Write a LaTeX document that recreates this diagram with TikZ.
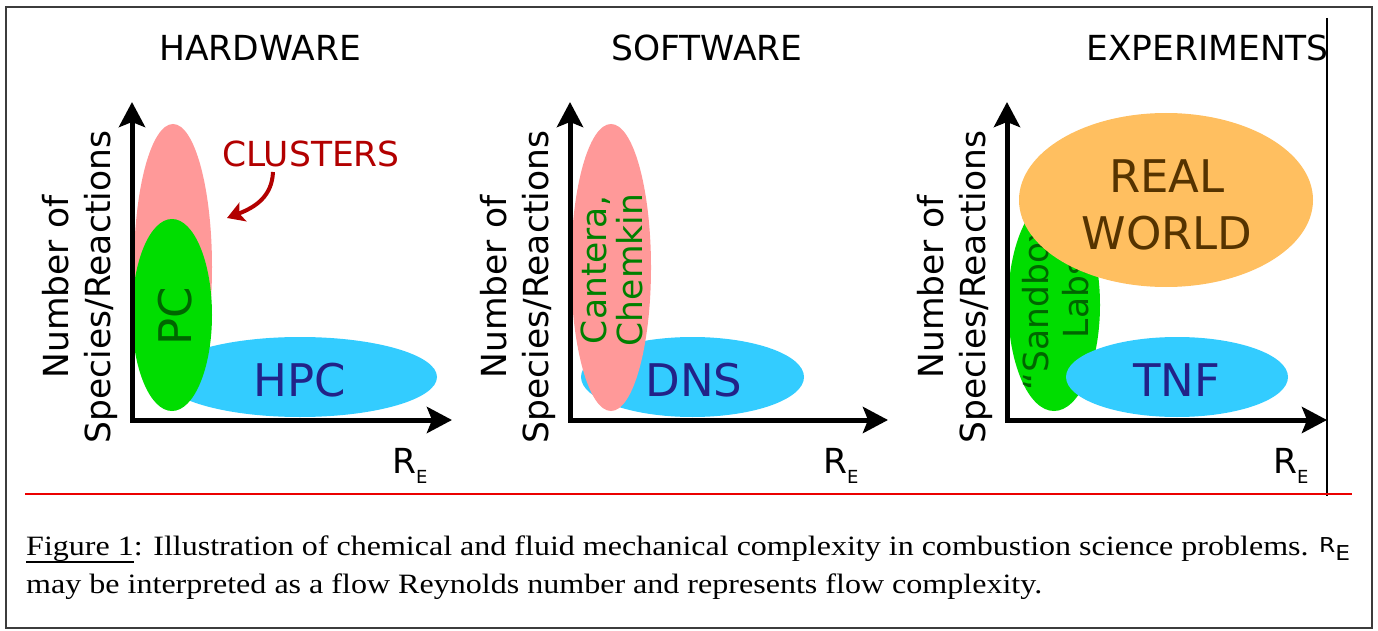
\documentclass[tikz,border=0pt]{standalone}
\usepackage{fontspec}
\setmainfont{Liberation Serif}
\newfontfamily\dvsans{DejaVu Sans}
\usetikzlibrary{shapes.geometric,arrows.meta,calc}

\newcommand\fsz[2]{\fontsize{#1}{#2}\selectfont}
% Reynolds-number label used under each x axis
\newcommand\reyn{R\raisebox{-10pt}{\fsz{18}{18}E}}
% underlined figure tag in the caption
\newsavebox\ulbox
\newcommand\figul[1]{\sbox\ulbox{#1}\rlap{\rule[-7.5pt]{\wd\ulbox}{1.8pt}}\usebox\ulbox}

\definecolor{pinkE}{RGB}{255,153,153}
\definecolor{greenE}{RGB}{0,221,0}
\definecolor{blueE}{RGB}{51,204,255}
\definecolor{orangeE}{RGB}{255,191,96}
\definecolor{navyT}{RGB}{34,34,136}
\definecolor{greenT}{RGB}{0,102,0}
\definecolor{greenTT}{RGB}{0,128,0}
\definecolor{brownT}{RGB}{85,51,0}
\definecolor{redT}{RGB}{178,0,0}
\definecolor{ruleRed}{RGB}{235,0,0}
\definecolor{frameC}{RGB}{60,60,60}

\begin{document}
\begin{tikzpicture}[x=1pt,y=-1pt,
  blob/.style={ellipse, inner sep=0pt, outer sep=0pt, draw=none},
  lbl/.style={font=\dvsans\fsz{34.5}{42}, inner sep=0pt},
  big/.style={font=\dvsans\fsz{45}{57}, inner sep=0pt},
  axis/.style={line width=5pt,
    {Stealth[length=25pt,width=26pt,inset=5pt]}-{Stealth[length=25pt,width=26pt,inset=5pt]}},
  ylab/.style={lbl, rotate=90, align=center},
]
\useasboundingbox (0,0) rectangle (1378,631);

% outer frame, right margin line and red separator
\draw[frameC, line width=2pt] (6,7) rectangle (1372,628);
\draw[black, line width=1.5pt] (1327,18) -- (1327,496);
\draw[ruleRed, line width=2pt] (25,494) -- (1352,494);

% ---------------- HARDWARE ----------------
\node[lbl, anchor=base] (hw-title) at (260,61) {HARDWARE};
\node[blob, fill=pinkE, minimum width=78pt, minimum height=286pt] (hw-cl) at (173,267) {};
\node[blob, fill=blueE, minimum width=274pt, minimum height=80pt] (hw-hpc) at (300,377) {};
\node[blob, fill=greenE, minimum width=80pt, minimum height=192pt] (hw-pc) at (172,315) {};
\node[big, text=greenT, rotate=90] (hw-pc-t) at (175,316) {PC};
\node[big, text=navyT, anchor=base] (hw-hpc-t) at (300,396) {HPC};
\node[lbl, text=redT, anchor=base] (hw-clusters) at (311,167) {CLUSTERS};
\coordinate (hw-cl-tip) at (227,218);
\draw[redT, line width=4pt, -{Stealth[length=17pt,width=20pt,inset=4pt]}]
  ($(hw-clusters.base)+(-38,5)$) .. controls (272,196) and (256,207) .. (hw-cl-tip);
\coordinate (hw-o) at (132,420);
\coordinate (hw-y) at (132,102);
\coordinate (hw-x) at (452,420);
\draw[axis] (hw-y) -- (hw-o) -- (hw-x);
\node[ylab] (hw-ylab) at (80,287) {Number of\\Species/Reactions};
\node[lbl, anchor=base west] (hw-re) at (392,473) {\reyn};

% ---------------- SOFTWARE ----------------
\node[lbl, anchor=base] (sw-title) at (707,61) {SOFTWARE};
\node[blob, fill=blueE, minimum width=223pt, minimum height=80pt] (sw-dns) at (692.5,377) {};
\node[blob, fill=pinkE, minimum width=80pt, minimum height=287pt] (sw-ct) at (611,267.5) {};
\node[big, text=navyT, anchor=base] (sw-dns-t) at (694,396) {DNS};
\node[ylab, text=greenTT, font=\dvsans\fsz{34.5}{36.5}] (sw-ct-t) at (612,270) {Cantera,\\Chemkin};
\coordinate (sw-o) at (570,420);
\coordinate (sw-y) at (570,102);
\coordinate (sw-x) at (888,420);
\draw[axis] (sw-y) -- (sw-o) -- (sw-x);
\node[ylab] (sw-ylab) at (518,287) {Number of\\Species/Reactions};
\node[lbl, anchor=base west] (sw-re) at (823,473) {\reyn};

% ---------------- EXPERIMENTS ----------------
\node[lbl, anchor=base] (ex-title) at (1207.5,61) {EXPERIMENTS};
\node[blob, fill=greenE, minimum width=92pt, minimum height=212pt] (ex-sb) at (1054,305) {};
\node[ylab, text=greenT, font=\dvsans\fsz{34.5}{40}] (ex-sb-t) at (1056,298) {“Sandbox”\\Labs};
\node[blob, fill=orangeE, minimum width=294pt, minimum height=174pt] (ex-rw) at (1166,200) {};
\node[big, text=brownT, align=center] (ex-rw-t) at (1167,204.5) {REAL\\WORLD};
\node[blob, fill=blueE, minimum width=222pt, minimum height=80pt] (ex-tnf) at (1177,377) {};
\node[big, text=navyT, anchor=base] (ex-tnf-t) at (1177,396) {TNF};
\coordinate (ex-o) at (1007,420);
\coordinate (ex-y) at (1007,102);
\coordinate (ex-x) at (1327,420);
\draw[axis] (ex-y) -- (ex-o) -- (ex-x);
\node[ylab] (ex-ylab) at (955,287) {Number of\\Species/Reactions};
\node[lbl, anchor=base west] (ex-re) at (1273,473) {\reyn};

% ---------------- caption ----------------
\node[anchor=base west, inner sep=0pt] (cap1) at (26,555)
  {\resizebox{1324pt}{\height}{\fsz{28}{30}\figul{Figure 1}: Illustration of chemical and fluid mechanical complexity in combustion science problems. {\dvsans\fsz{20.5}{22}\raisebox{3pt}{R}\raisebox{-5pt}{E}}}};
\node[anchor=base west, inner sep=0pt] (cap2) at (26,593)
  {\resizebox{1016pt}{\height}{\fsz{28}{30}may be interpreted as a flow Reynolds number and represents flow complexity.}};
\end{tikzpicture}
\end{document}
